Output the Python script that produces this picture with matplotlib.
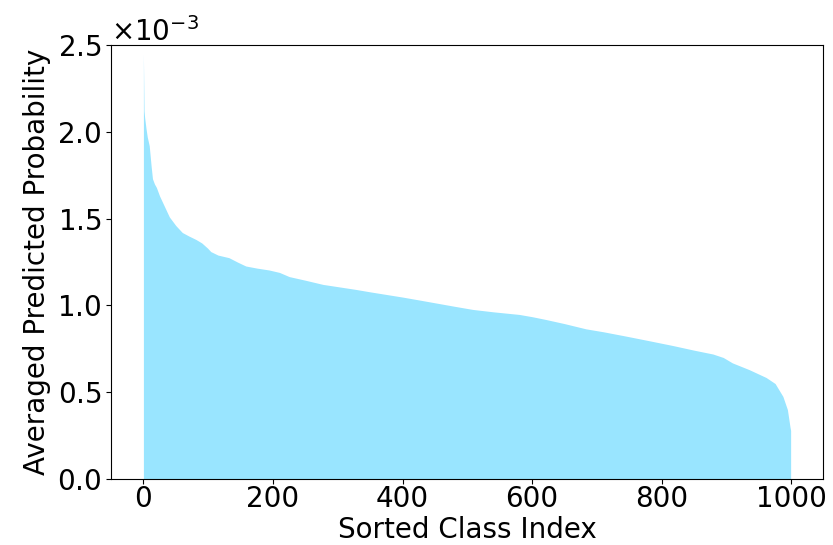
import matplotlib
matplotlib.use("Agg")
import matplotlib.pyplot as plt

# Sorted class index (sample points)
class_index = [0, 1, 2, 4, 6, 9, 12, 14, 17, 20, 25, 30, 40, 50, 60, 70, 81, 90,
               99, 104, 115, 132, 145, 158, 175, 194, 210, 225, 250, 277, 300,
               328, 350, 380, 400, 426, 450, 480, 508, 540, 580, 600, 621, 650,
               683, 710, 745, 780, 817, 850, 879, 895, 909, 935, 961, 975, 987, 994,
               998, 999]
# Averaged predicted probability (x1e-3)
avg_prob_e3 = [2.45, 2.12, 2.08, 2.02, 1.97, 1.92, 1.80, 1.73, 1.70, 1.68, 1.63,
               1.59, 1.51, 1.46, 1.42, 1.40, 1.38, 1.36, 1.33, 1.31, 1.29, 1.275,
               1.25, 1.227, 1.215, 1.204, 1.19, 1.166, 1.145, 1.121, 1.108, 1.092,
               1.078, 1.06, 1.048, 1.031, 1.015, 0.995, 0.977, 0.963, 0.948, 0.935,
               0.919, 0.895, 0.865, 0.848, 0.823, 0.797, 0.769, 0.742, 0.72, 0.70,
               0.669, 0.63, 0.585, 0.55, 0.476, 0.40, 0.30, 0.28]
avg_prob = [v * 1e-3 for v in avg_prob_e3]

fig = plt.figure(figsize=(8.33, 5.45), dpi=100)
ax = fig.add_axes([0.1333, 0.1211, 0.8547, 0.7963])
ax.fill_between(class_index, avg_prob, 0, color="deepskyblue", alpha=0.4, linewidth=0)
ax.set_ylim(0, 2.5e-3)
ax.set_xticks([0, 200, 400, 600, 800, 1000])
ax.ticklabel_format(axis="y", style="sci", scilimits=(0, 0), useMathText=True)
ax.tick_params(labelsize=20)
ax.tick_params(axis="x", pad=0.5)
ax.yaxis.get_offset_text().set_fontsize(20)
ax.set_xlabel("Sorted Class Index", fontsize=20, labelpad=2.5)
ax.set_ylabel("Averaged Predicted Probability", fontsize=20)
fig.savefig("out.png", dpi=100)
